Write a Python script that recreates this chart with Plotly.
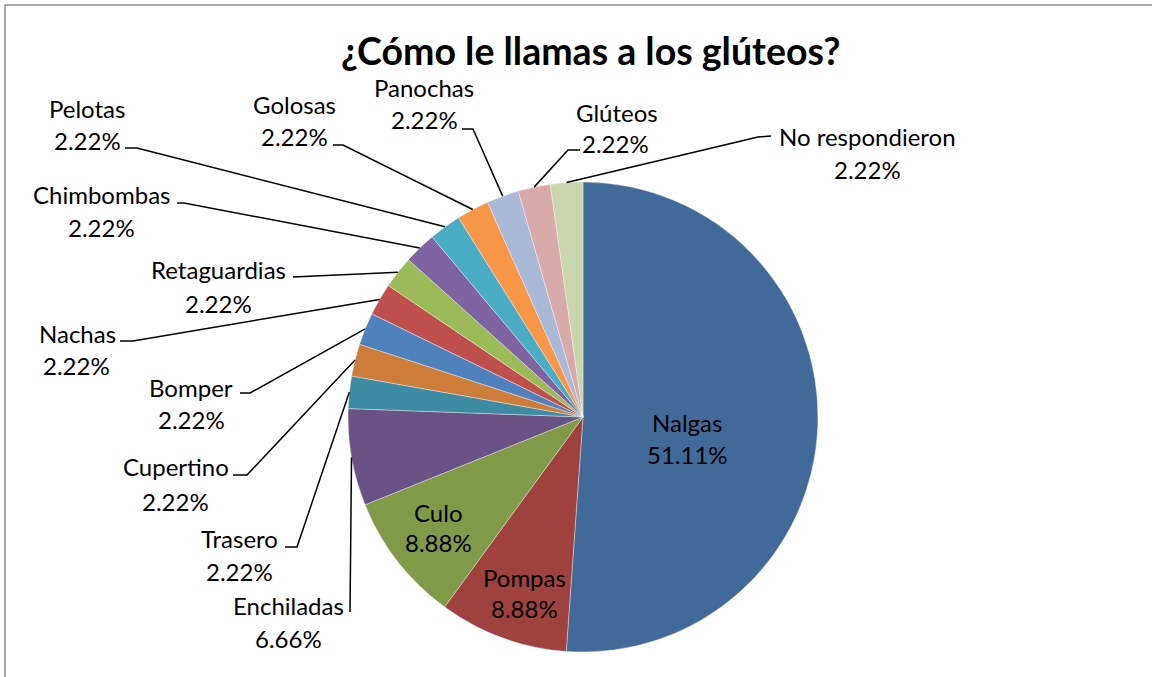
import math
import plotly.graph_objects as go

# ---------------- data ----------------
labels = ["Nalgas", "Pompas", "Culo", "Enchiladas", "Trasero", "Cupertino",
          "Bomper", "Nachas", "Retaguardias", "Chimbombas", "Pelotas",
          "Golosas", "Panochas", "Glúteos", "No respondieron"]
values = [51.11, 8.88, 8.88, 6.66, 2.22, 2.22, 2.22, 2.22, 2.22, 2.22,
          2.22, 2.22, 2.22, 2.22, 2.22]
colors = ["#416A9B", "#9F413F", "#809A49", "#6A5186", "#3D8CA4", "#CE7C39",
          "#4F81BD", "#C0504D", "#9BBB59", "#8064A2", "#4BACC6", "#F79646",
          "#AAB9D7", "#D9AAA9", "#C9D6AD"]
title = "¿Cómo le llamas a los glúteos?"

# ---------------- layout constants (pixels) ----------------
W, H = 1152, 677
CX, CY, R = 583, 417, 235
FONT = "Lato"
LSIZE = 24

def px(x):
    return x / W

def py(y):
    return 1 - y / H

# label placement: name (x, y), percent (x, y), leader-line start points
label_pos = {
    "Nalgas":          ((687, 422), (687, 454), None),
    "Pompas":          ((524, 577), (524, 608), None),
    "Culo":            ((438, 512), (438, 542), None),
    "Enchiladas":      ((288, 605), (288, 638), [(350, 612)]),
    "Trasero":         ((239, 538), (239, 571), [(285, 547), (297, 547)]),
    "Cupertino":       ((176, 467), (175, 501), [(233, 475), (247, 475)]),
    "Bomper":          ((191, 387), (191, 419), [(240, 393), (250, 393)]),
    "Nachas":          ((77, 333), (76, 366), [(120, 341), (133, 341)]),
    "Retaguardias":    ((218, 270), (218, 303), [(293, 277)]),
    "Chimbombas":      ((101, 195), (101, 227), [(177, 203), (184, 203)]),
    "Pelotas":         ((87, 109), (87, 140), [(125, 148), (137, 148)]),
    "Golosas":         ((294, 105), (294, 137), [(333, 145), (343, 145)]),
    "Panochas":        ((424, 88), (424, 120), [(462, 129), (473, 129)]),
    "Glúteos":         ((617, 112), (615, 143), [(580, 150), (568, 150)]),
    "No respondieron": ((867, 137), (867, 169), [(771, 136), (758, 137)]),
}

fig = go.Figure()
fig.add_trace(go.Pie(
    labels=labels, values=values, sort=False, direction="clockwise",
    rotation=0, textinfo="none", hoverinfo="label+percent",
    marker=dict(colors=colors, line=dict(color="rgba(255,255,255,0.6)", width=0.6)),
    domain=dict(x=[px(CX - R), px(CX + R)], y=[py(CY + R), py(CY - R)]),
    showlegend=False,
))

annotations = []
shapes = []
total = sum(values)
cum = 0.0
for lab, val in zip(labels, values):
    mid = (cum + val / 2) / total * 2 * math.pi
    cum += val
    ex = CX + R * math.sin(mid)
    ey = CY - R * math.cos(mid)
    (nx, ny), (qx, qy), pts = label_pos[lab]
    annotations.append(dict(x=px(nx), y=py(ny), xref="paper", yref="paper",
                            text=lab, showarrow=False, xanchor="center",
                            yanchor="middle",
                            font=dict(family=FONT, size=LSIZE, color="#000000")))
    annotations.append(dict(x=px(qx), y=py(qy), xref="paper", yref="paper",
                            text=f"{val:.2f}%", showarrow=False,
                            xanchor="center", yanchor="middle",
                            font=dict(family=FONT, size=LSIZE, color="#000000")))
    if pts:
        allp = pts + [(ex, ey)]
        path = "M " + " L ".join(f"{px(a):.5f},{py(b):.5f}" for a, b in allp)
        shapes.append(dict(type="path", xref="paper", yref="paper", path=path,
                           line=dict(color="#000000", width=1.5)))

annotations.append(dict(x=px(591), y=py(50), xref="paper", yref="paper",
                        text=f"<b>{title}</b>", showarrow=False,
                        xanchor="center", yanchor="middle",
                        font=dict(family=FONT, size=37.5, color="#000000")))

# outer chart border
shapes.append(dict(type="rect", xref="paper", yref="paper",
                   x0=px(5), x1=px(W + 20), y0=py(H + 20), y1=py(5),
                   line=dict(color="#8C8C8C", width=1.5), fillcolor="rgba(0,0,0,0)"))

fig.update_layout(
    width=W, height=H, margin=dict(l=0, r=0, t=0, b=0),
    paper_bgcolor="#FFFFFF", plot_bgcolor="#FFFFFF",
    annotations=annotations, shapes=shapes,
    font=dict(family=FONT),
)

fig.write_html("out.html",
               config={"displayModeBar": False},
               post_script="document.body.style.margin='0px';"
                           "document.body.style.overflow='hidden';")
